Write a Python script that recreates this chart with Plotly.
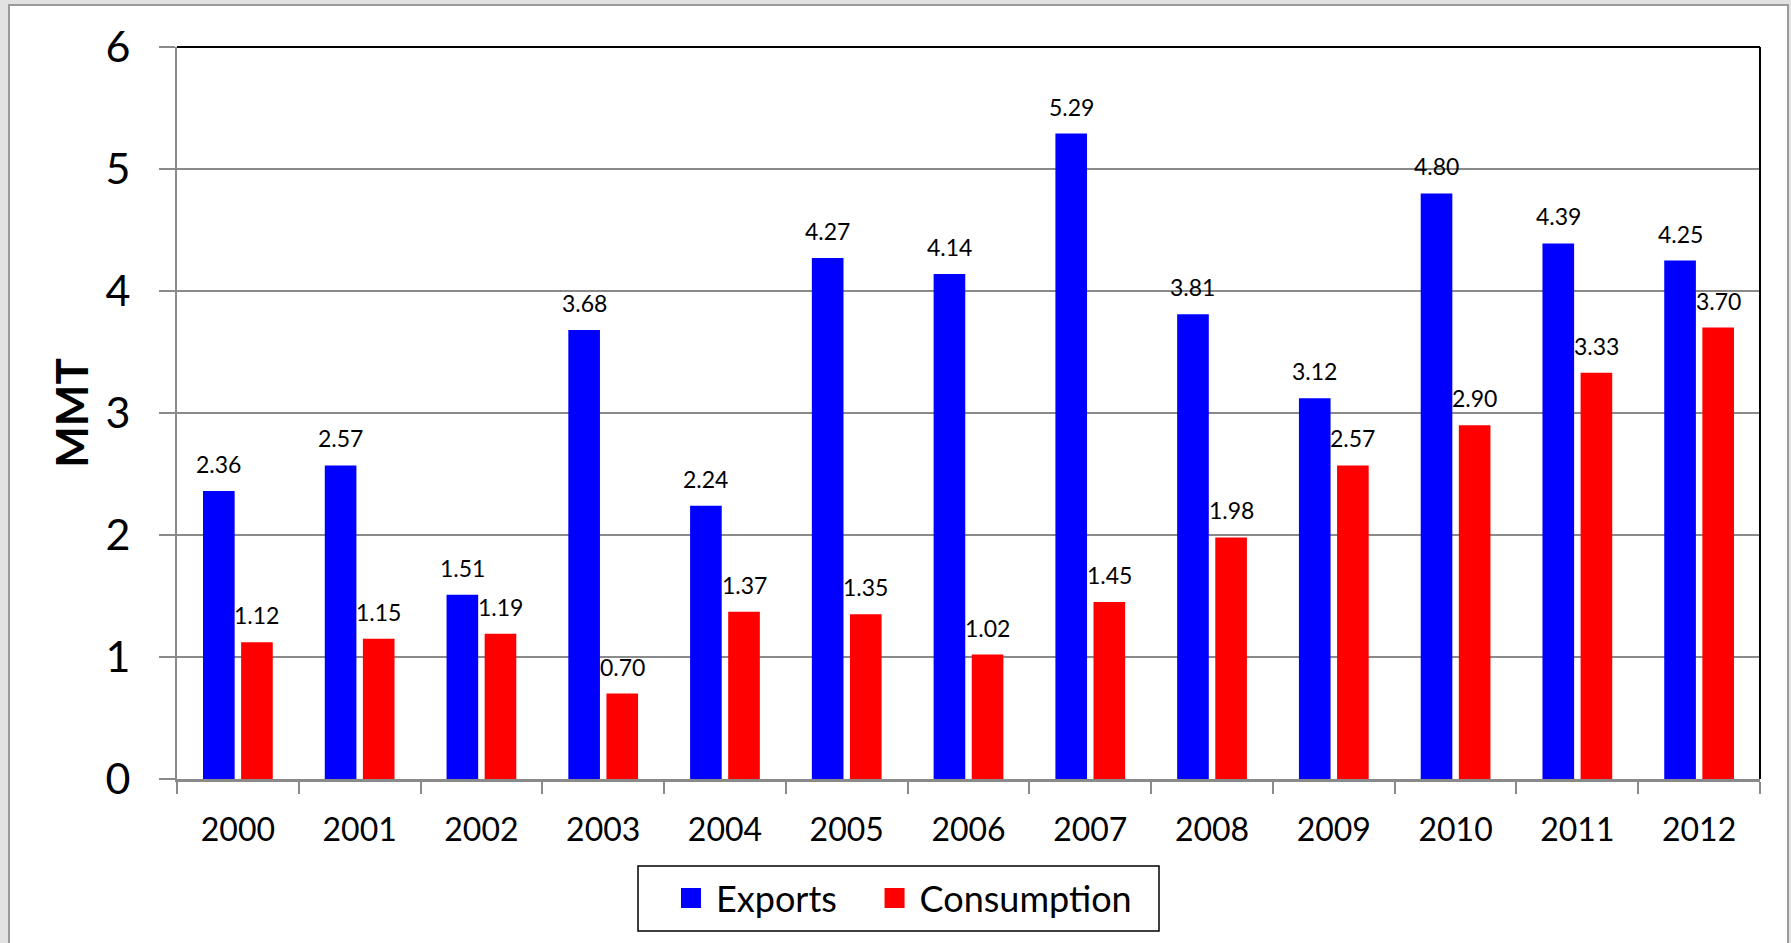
import plotly.graph_objects as go

years = ["2000", "2001", "2002", "2003", "2004", "2005", "2006",
         "2007", "2008", "2009", "2010", "2011", "2012"]
exports = [2.36, 2.57, 1.51, 3.68, 2.24, 4.27, 4.14, 5.29, 3.81, 3.12, 4.80, 4.39, 4.25]
consumption = [1.12, 1.15, 1.19, 0.70, 1.37, 1.35, 1.02, 1.45, 1.98, 2.57, 2.90, 3.33, 3.70]
y_ticks = [0, 1, 2, 3, 4, 5, 6]

W, H = 1791, 943
ML, MR, MT, MB = 177, 31, 47, 164
PW = W - ML - MR
PH = H - MT - MB
BARGAP = 0.374
GROUPGAP = 0.17
BLUE = "#0000ff"
RED = "#ff0000"

FONT = "Lato, 'Open Sans', sans-serif"
NBSP = "\u00a0"

fig = go.Figure()
fig.add_trace(go.Bar(x=years, y=exports, name="Exports", marker_color=BLUE,
                     marker_line_width=0, showlegend=False))
fig.add_trace(go.Bar(x=years, y=consumption, name="Consumption", marker_color=RED,
                     marker_line_width=0, showlegend=False))
# legend-only entries with larger square swatches
for nm, col in [("Exports" + NBSP * 3, BLUE), ("Consumption", RED)]:
    fig.add_trace(go.Scatter(x=[None], y=[None], mode="markers", name=nm,
                             marker=dict(symbol="square", size=16, color=col,
                                         line=dict(color=col, width=4)),
                             hoverinfo="skip"))

# value labels above bars (x given as category index)
cat_px = PW / len(years)
shift = cat_px * (1 - BARGAP) / 4
annotations = []
for i, v in enumerate(exports):
    annotations.append(dict(x=i, y=v, xref="x", yref="y", text=f"{v:.2f}",
                            showarrow=False, xshift=-shift, yshift=11, yanchor="bottom",
                            font=dict(family=FONT, size=23, color="black")))
for i, v in enumerate(consumption):
    annotations.append(dict(x=i, y=v, xref="x", yref="y", text=f"{v:.2f}",
                            showarrow=False, xshift=shift, yshift=11, yanchor="bottom",
                            font=dict(family=FONT, size=23, color="black")))

def px_x(p):
    return (p - ML) / PW

def px_y(p):
    return (H - MB - p) / PH

shapes = [
    # outer white frame
    dict(type="rect", xref="paper", yref="paper", layer="below",
         x0=px_x(9), x1=px_x(1788), y0=px_y(960), y1=px_y(5),
         fillcolor="white", line=dict(color="#9a9a9a", width=2)),
    # top and right black plot borders
    dict(type="line", xref="paper", yref="paper", x0=0, x1=1, y0=1, y1=1,
         line=dict(color="black", width=2)),
    dict(type="line", xref="paper", yref="paper", x0=1, x1=1, y0=0, y1=1,
         line=dict(color="black", width=2)),
    # legend box
    dict(type="rect", xref="paper", yref="paper",
         x0=px_x(638), x1=px_x(1159), y0=px_y(931), y1=px_y(866),
         fillcolor="white", line=dict(color="black", width=1.5), layer="below"),
]

fig.update_layout(
    width=W, height=H,
    margin=dict(l=ML, r=MR, t=MT, b=MB, autoexpand=False),
    paper_bgcolor="#e2e2e2",
    plot_bgcolor="white",
    barmode="group",
    bargap=BARGAP,
    bargroupgap=GROUPGAP,
    font=dict(family=FONT, color="black"),
    showlegend=True,
    legend=dict(orientation="h", x=px_x(666), y=px_y(898), xanchor="left", yanchor="middle",
                bgcolor="rgba(0,0,0,0)", borderwidth=0,
                font=dict(family=FONT, size=36, color="black"),
                itemwidth=40, traceorder="normal"),
    annotations=annotations,
    shapes=shapes,
)

fig.update_xaxes(
    type="category",
    range=[-0.5, len(years) - 0.5],
    automargin=False,
    showline=True, linecolor="#8a8a8a", linewidth=3,
    ticks="outside", tickson="boundaries", ticklen=12, tickwidth=2, tickcolor="#8a8a8a",
    showgrid=False,
    tickangle=0,
    tickfont=dict(family=FONT, size=32, color="black"),
    ticklabelstandoff=21,
)

fig.update_yaxes(
    range=[0, 6],
    automargin=False,
    tickvals=y_ticks,
    ticktext=[str(t) for t in y_ticks],
    showline=True, linecolor="#8a8a8a", linewidth=2,
    ticks="outside", ticklen=16, tickwidth=2, tickcolor="#8a8a8a",
    showgrid=True, gridcolor="#8a8a8a", gridwidth=1.5,
    zeroline=False,
    tickfont=dict(family=FONT, size=43, color="black"),
    ticklabelstandoff=20,
    title=dict(text="<b>MMT</b>", font=dict(family=FONT, size=44, color="black"), standoff=3),
)

fig.write_html("out.html", config={"displayModeBar": False},
               post_script="document.body.style.margin='0';")
